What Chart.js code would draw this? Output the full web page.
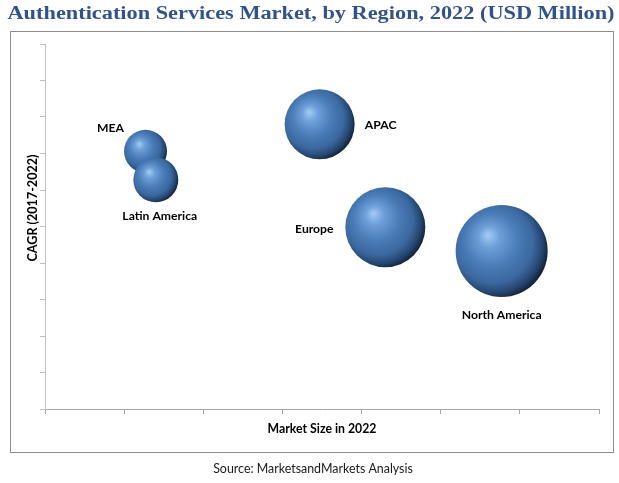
<!DOCTYPE html>
<html><head><meta charset="utf-8">
<script src="https://cdn.jsdelivr.net/npm/chart.js@4.4.0/dist/chart.umd.min.js"></script>
<style>html,body{margin:0;padding:0;background:#fff;}canvas{display:block;}</style>
</head><body>
<canvas id="c" width="619" height="483"></canvas>
<script>
// ---------- data ----------
const regions    = ['MEA', 'Latin America', 'APAC', 'Europe', 'North America'];
const marketSize = [1.27, 1.40, 3.47, 4.30, 5.77];   // x (axis units, no labels shown)
const cagr       = [7.06, 6.28, 7.80, 4.98, 4.33];   // y (axis units, no labels shown)
const bubbleSize = [21.5, 22.5, 35, 40, 46];         // bubble radius
const xTicks = [0, 1, 2, 3, 4, 5, 6, 7];
const yTicks = [0, 1, 2, 3, 4, 5, 6, 7, 8, 9, 10];
const titleText  = 'Authentication Services Market, by Region, 2022 (USD Million)';
const xAxisTitle = 'Market Size in 2022';
const yAxisTitle = 'CAGR (2017-2022)';
const sourceText = 'Source: MarketsandMarkets Analysis';

// ---------- styles ----------
const labelOffsets = { 'MEA': [-35, -23], 'Latin America': [4, 36.5], 'APAC': [61, 1], 'Europe': [-71, 1.5], 'North America': [0, 64] };
const measureCtx = document.createElement('canvas').getContext('2d');
function textWidth(text, font) { measureCtx.font = font; return measureCtx.measureText(text).width; }
function fitSize(text, weight, family, target) {
  return 100 * target / textWidth(text, weight + ' 100px ' + family);
}
const titleFamily = '"Liberation Serif", serif';
const titleSize = 18;
const titleFont = 'bold ' + titleSize + 'px ' + titleFamily;
const titleStretch = 607 / textWidth(titleText, titleFont);
const sansFamily = 'Lato, "Open Sans", sans-serif';
const labelSize = fitSize('North America', 'bold', sansFamily, 80);
const xTitleSize = fitSize(xAxisTitle, 'bold', sansFamily, 109);
const yTitleSize = fitSize(yAxisTitle, 'bold', sansFamily, 107);
const sourceSize = fitSize(sourceText, 'normal', sansFamily, 200);

function sphere(ctx) {
  const chart = ctx.chart;
  const raw = ctx.raw;
  if (!raw || !chart.scales || !chart.scales.x || !chart.scales.y) return '#4A7EBB';
  const x = chart.scales.x.getPixelForValue(raw.x);
  const y = chart.scales.y.getPixelForValue(raw.y);
  const r = raw.r;
  if (!Number.isFinite(x) || !Number.isFinite(y) || !Number.isFinite(r)) return '#4A7EBB';
  const g = chart.ctx.createRadialGradient(x - 0.3 * r, y - 0.35 * r, 0, x - 0.15 * r, y - 0.12 * r, r * 1.17);
  g.addColorStop(0, '#A3CDF5');
  g.addColorStop(0.2, '#6E9FD8');
  g.addColorStop(0.48, '#4B7DB9');
  g.addColorStop(0.75, '#3A679E');
  g.addColorStop(0.9, '#26466F');
  g.addColorStop(1, '#14243A');
  return g;
}

const decor = {
  id: 'decor',
  beforeDraw(chart) {
    const c = chart.ctx;
    c.save();
    c.fillStyle = '#fff';
    c.fillRect(0, 0, chart.width, chart.height);
    c.strokeStyle = '#8C8C8C';
    c.lineWidth = 1;
    c.strokeRect(10.5, 31.5, 603, 421);
    c.restore();
  },
  afterDatasetsDraw(chart) {
    const c = chart.ctx;
    const meta = chart.getDatasetMeta(0);
    c.save();
    c.fillStyle = '#000';
    c.font = 'bold ' + labelSize + 'px ' + sansFamily;
    c.textAlign = 'center';
    c.textBaseline = 'middle';
    meta.data.forEach((el, i) => {
      const off = labelOffsets[regions[i]];
      c.fillText(regions[i], el.x + off[0], el.y + off[1]);
    });
    c.restore();
  },
  afterDraw(chart) {
    const c = chart.ctx;
    const a = chart.chartArea;
    c.save();
    c.textAlign = 'center';
    c.fillStyle = '#31538A';
    c.font = titleFont;
    c.textBaseline = 'alphabetic';
    c.save();
    c.translate(311, 19);
    c.scale(titleStretch, 1);
    c.fillText(titleText, 0, 0);
    c.restore();
    c.fillStyle = '#000';
    c.textBaseline = 'middle';
    c.font = 'bold ' + xTitleSize + 'px ' + sansFamily;
    c.fillText(xAxisTitle, (a.left + a.right) / 2, 429);
    c.fillStyle = '#1a1a1a';
    c.font = 'normal ' + sourceSize + 'px ' + sansFamily;
    c.fillText(sourceText, 313, 469);
    c.fillStyle = '#000';
    c.font = 'bold ' + yTitleSize + 'px ' + sansFamily;
    c.translate(33, 208);
    c.rotate(-Math.PI / 2);
    c.fillText(yAxisTitle, 0, 0);
    c.restore();
  }
};

new Chart(document.getElementById('c'), {
  type: 'bubble',
  data: {
    datasets: [{
      label: 'Regions',
      data: regions.map((r, i) => ({ x: marketSize[i], y: cagr[i], r: bubbleSize[i] })),
      backgroundColor: sphere,
      borderWidth: 0,
      hoverRadius: 0
    }]
  },
  options: {
    responsive: false,
    animation: false,
    events: [],
    layout: { autoPadding: false, padding: { top: 44, right: 20, bottom: 0, left: 0 } },
    plugins: { legend: { display: false }, tooltip: { enabled: false }, title: { display: false } },
    scales: {
      x: {
        type: 'linear', min: 0, max: 7,
        afterBuildTicks(s) { s.ticks = xTicks.map(v => ({ value: v })); },
        ticks: { display: false },
        grid: { drawOnChartArea: false, drawTicks: true, tickLength: 5, color: '#A6A6A6' },
        border: { display: true, color: '#A6A6A6', width: 1 },
        afterFit(s) { s.height = 74; }
      },
      y: {
        type: 'linear', min: 0, max: 10,
        afterBuildTicks(s) { s.ticks = yTicks.map(v => ({ value: v })); },
        ticks: { display: false },
        grid: { drawOnChartArea: false, drawTicks: true, tickLength: 5, color: '#BFBFBF' },
        border: { display: true, color: '#BFBFBF', width: 1 },
        afterFit(s) { s.width = 45; }
      }
    }
  },
  plugins: [decor]
});
</script>
</body></html>
